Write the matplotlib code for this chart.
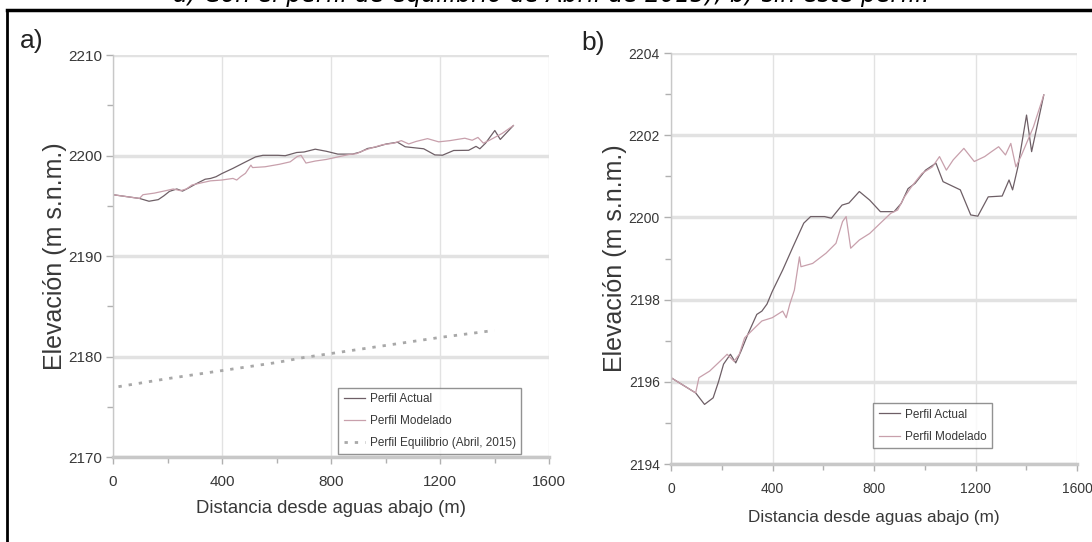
import numpy as np
import matplotlib
matplotlib.use('Agg')
import matplotlib.pyplot as plt
from matplotlib.lines import Line2D
from matplotlib.ticker import MultipleLocator

plt.rcParams['font.family']=['Liberation Sans','DejaVu Sans']

# perfil actual (distancia m, elevacion m s.n.m.)
x_act=[0,97,132,166,187,207,234,255,276,303,338,358,378,399,440,481,523,550,605,632,674,701,742,783,825,879,907,934,962,1003,1044,1072,1140,1181,1209,1250,1305,1332,1346,1367,1401,1421,1469]
y_act=[2196.1,2195.73,2195.45,2195.61,2196.0,2196.43,2196.67,2196.46,2196.75,2197.16,2197.64,2197.72,2197.89,2198.2,2198.72,2199.29,2199.86,2200.02,2200.02,2199.98,2200.3,2200.35,2200.63,2200.42,2200.14,2200.14,2200.34,2200.7,2200.83,2201.15,2201.32,2200.87,2200.67,2200.06,2200.03,2200.5,2200.52,2200.91,2200.67,2201.23,2202.49,2201.6,2202.98]

# perfil modelado
x_mod=[0,97,110,152,193,221,248,269,290,331,358,399,440,454,468,486,506,512,558,611,637,650,676,690,708,742,783,825,866,893,920,948,989,1030,1058,1085,1112,1154,1195,1236,1263,1291,1318,1339,1359,1380,1428,1469]
y_mod=[2196.1,2195.73,2196.1,2196.26,2196.5,2196.67,2196.5,2196.67,2197.07,2197.32,2197.48,2197.56,2197.72,2197.56,2197.89,2198.23,2199.04,2198.8,2198.88,2199.13,2199.29,2199.37,2199.9,2200.02,2199.25,2199.45,2199.61,2199.86,2200.1,2200.18,2200.5,2200.75,2201.07,2201.23,2201.48,2201.15,2201.4,2201.68,2201.36,2201.48,2201.6,2201.72,2201.52,2201.8,2201.23,2201.5,2202.2,2202.98]

# perfil de equilibrio (abril 2015)
x_eq=[20,200,400,600,700,800,1000,1200,1400]
y_eq=[2177.0,2177.8,2178.6,2179.4,2179.9,2180.3,2181.1,2181.9,2182.6]

c_act='#6e5f66'
c_mod='#c8a0ac'
c_eq='#a8a8a8'
c_grid='#e2e2e2'
c_txt='#383838'

def style_ax(ax,xmaj,xmin,ymaj,ymin,lsize):
	ax.xaxis.set_major_locator(MultipleLocator(xmaj))
	ax.xaxis.set_minor_locator(MultipleLocator(xmin))
	ax.yaxis.set_major_locator(MultipleLocator(ymaj))
	ax.yaxis.set_minor_locator(MultipleLocator(ymin))
	ax.grid(True,axis='y',which='major',color=c_grid,lw=2.5)
	ax.grid(True,axis='x',which='major',color=c_grid,lw=1)
	for s in ['top','right']:
		ax.spines[s].set_visible(False)
	ax.spines['left'].set_color('#c8c8c8')
	ax.spines['left'].set_linewidth(1)
	ax.spines['bottom'].set_color('#c8c8c8')
	ax.spines['bottom'].set_linewidth(2.5)
	ax.tick_params(which='both',direction='out',color='#b0b0b0',labelcolor=c_txt,labelsize=lsize)
	ax.tick_params(which='major',length=5,width=1)
	ax.tick_params(which='minor',length=4,width=1)
	ax.tick_params(axis='x',which='major',pad=8)
	ax.tick_params(axis='y',which='major',pad=3)
	ax.set_axisbelow(True)

def add_legend(ax,anchor):
	leg=ax.legend(loc='lower right',bbox_to_anchor=anchor,fontsize=8.5,frameon=True,fancybox=False,handlelength=1.8,handletextpad=0.4,borderpad=0.45,labelspacing=0.85,borderaxespad=0)
	leg.get_frame().set_edgecolor('#777777')
	leg.get_frame().set_linewidth(1)
	for t in leg.get_texts():
		t.set_color(c_txt)

fig=plt.figure(figsize=(10.92,5.42),dpi=100)

# a)
ax1=fig.add_axes([0.1035,0.1568,0.3993,0.7417])
ax1.plot(x_act,y_act,color=c_act,lw=0.9,label='Perfil Actual')
ax1.plot(x_mod,y_mod,color=c_mod,lw=0.9,label='Perfil Modelado')
ax1.plot(x_eq,y_eq,color=c_eq,lw=2,linestyle=(0,(1.2,2.5)),label='Perfil Equilibrio (Abril, 2015)')
ax1.set_xlim(0,1600)
ax1.set_ylim(2170,2210)
style_ax(ax1,400,200,10,5,11)
ax1.set_xlabel('Distancia desde aguas abajo (m)',fontsize=13.3,color=c_txt,labelpad=8)
ax1.set_ylabel('Elevación (m s.n.m.)',fontsize=18,color=c_txt,labelpad=1)
add_legend(ax1,(0.936,0.007))

# b)
ax2=fig.add_axes([0.6145,0.1439,0.3718,0.7583])
ax2.plot(x_act,y_act,color=c_act,lw=0.9,label='Perfil Actual')
ax2.plot(x_mod,y_mod,color=c_mod,lw=0.9,label='Perfil Modelado')
ax2.set_xlim(0,1600)
ax2.set_ylim(2194,2204)
style_ax(ax2,400,200,2,1,10)
ax2.set_xlabel('Distancia desde aguas abajo (m)',fontsize=12.3,color=c_txt,labelpad=10)
ax2.set_ylabel('Elevación (m s.n.m.)',fontsize=18,color=c_txt,labelpad=1)
add_legend(ax2,(0.79,0.039))

fig.text(32/1092,1-41/542,'a)',fontsize=19,color='#222222',ha='center',va='center')
fig.text(593/1092,1-43/542,'b)',fontsize=19,color='#222222',ha='center',va='center')

# caption (cut at the top of the page) and frame
fig.text(551/1092,1-2/542,'a) Con el perfil de equilibrio de Abril de 2015); b) sin este perfil.',fontsize=17,style='italic',family=['DejaVu Sans'],ha='center',va='baseline',color='black')
fig.add_artist(Line2D([7/1092,1],[1-10/542,1-10/542],color='black',lw=2.5,transform=fig.transFigure))
fig.add_artist(Line2D([7/1092,7/1092],[0,1-10/542],color='black',lw=2,transform=fig.transFigure))

plt.savefig('out.png',dpi=100)
